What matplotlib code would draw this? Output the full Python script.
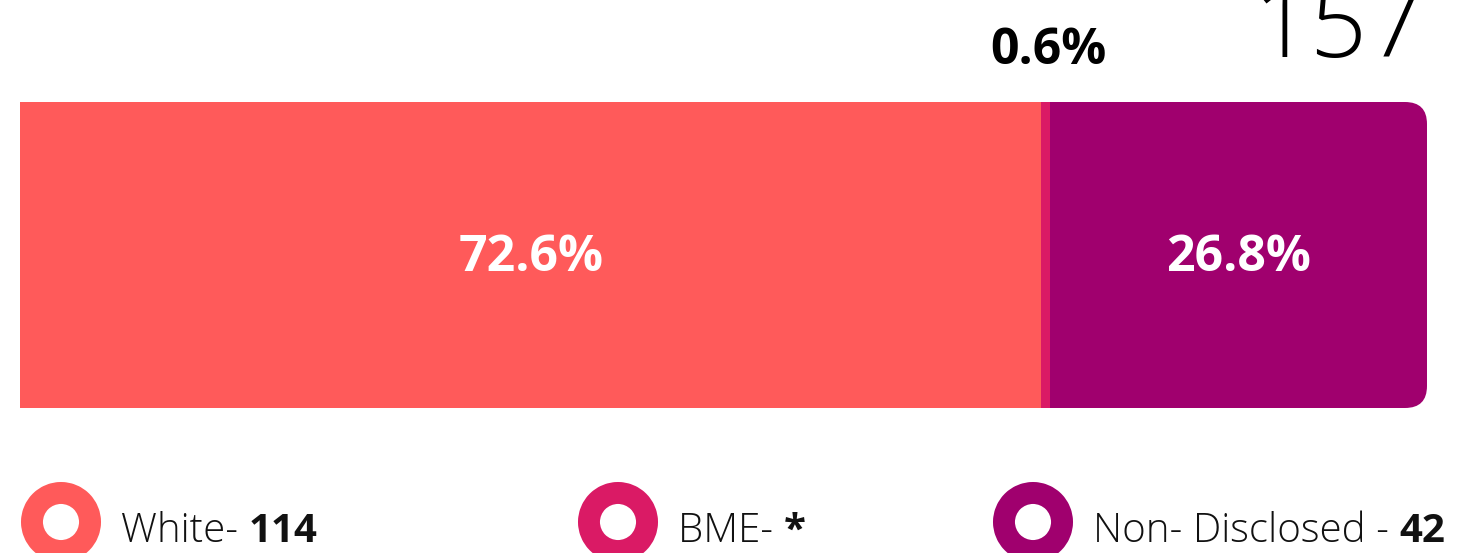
import matplotlib
matplotlib.use("Agg")
import matplotlib.pyplot as plt
from matplotlib.patches import FancyBboxPatch
from matplotlib.transforms import IdentityTransform

categories = ["White", "BME", "Non- Disclosed"]
percentages = [72.6, 0.6, 26.8]
counts = ["114", "*", "42"]
total = "157"
colors = ["#FF5A5A", "#DA1A65", "#A0006E"]
legend_sep = ["- ", "- ", " - "]

W, H = 1482, 553
fig = plt.figure(figsize=(W / 100, H / 100), dpi=100)
plt.rcParams['font.family'] = ['Open Sans', 'DejaVu Sans']

# overlay axes in pixel coordinates
ov = fig.add_axes([0, 0, 1, 1])
ov.set_xlim(0, W)
ov.set_ylim(H, 0)
ov.axis("off")

# bar axes
bx0, bx1, by0, by1 = 20, 1427, 102, 408
ax = fig.add_axes([bx0 / W, (H - by1) / H, (bx1 - bx0) / W, (by1 - by0) / H])
ax.set_xlim(0, 100)
ax.set_ylim(-0.5, 0.5)
ax.axis("off")

lefts = []
acc = 0.0
for p in percentages:
    lefts.append(acc)
    acc += p
bars = ax.barh([0] * len(percentages), percentages, left=lefts, height=1.0,
               color=colors, linewidth=0)

fig.canvas.draw()
# rounded right corners on the last segment
last = bars[-1]
x0d, y0d = ax.transData.transform((lefts[-1], -0.5))
x1d, y1d = ax.transData.transform((lefts[-1] + percentages[-1], 0.5))
clip = FancyBboxPatch((x0d - 60, y0d), (x1d - x0d) + 60, y1d - y0d,
                      boxstyle="round,pad=0,rounding_size=22",
                      transform=IdentityTransform(), facecolor="none", edgecolor="none")
last.set_clip_path(clip)

# labels
for i, (l, p) in enumerate(zip(lefts, percentages)):
    c = l + p / 2
    if p >= 5:
        ax.annotate(f"{p}%", (c, 0.0), xytext=(0, -2.5), textcoords="offset points",
                    ha="center", va="center", color="white",
                    fontsize=36, fontweight="bold")
    else:
        ax.annotate(f"{p}%", (c, 0.5), xytext=(2, 27), textcoords="offset points",
                    ha="center", va="baseline", color="black",
                    fontsize=36, fontweight="bold")

# total
ov.text(1339, 57, total, ha="center", va="baseline", fontsize=72,
        fontweight="light", color="black")

# legend
leg_x = [61, 618, 1033]
leg_y = 522
ov.scatter(leg_x, [leg_y] * 3, s=41.8 ** 2, facecolor="white", edgecolor=colors,
           linewidths=15.8, zorder=3)
for x, cat, sep, cnt in zip(leg_x, categories, legend_sep, counts):
    t = ov.text(x + 60, 542, cat + sep, ha="left", va="baseline", fontsize=29,
                fontweight="light", color="#111111")
    fig.canvas.draw()
    bb = t.get_window_extent()
    xd = ov.transData.inverted().transform((bb.x1, 0))[0]
    ov.text(xd, 542, cnt, ha="left", va="baseline", fontsize=29,
            fontweight="bold", color="#111111")

fig.savefig("out.png", dpi=100, facecolor="white")
